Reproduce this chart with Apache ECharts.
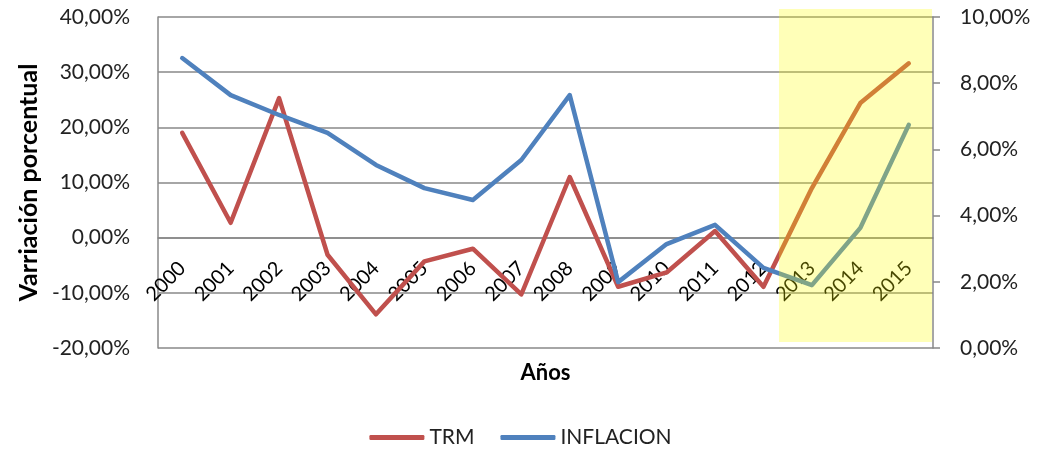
<!DOCTYPE html>
<html>
<head>
<meta charset="utf-8">
<script src="https://cdn.jsdelivr.net/npm/echarts@6/dist/echarts.min.js"></script>
<style>
  html, body { margin: 0; padding: 0; background: #fff; }
  #chart { width: 1041px; height: 453px; }
</style>
</head>
<body>
<div id="chart"></div>
<script>
const years = ['2000', '2001', '2002', '2003', '2004', '2005', '2006', '2007',
  '2008', '2009', '2010', '2011', '2012', '2013', '2014', '2015']
const trm = [19.0, 2.7, 25.3, -3.1, -13.9, -4.3, -2.0, -10.3,
  11.0, -8.9, -6.3, 1.2, -8.9, 9.0, 24.4, 31.6]
const inflacion = [8.76, 7.64, 7.04, 6.50, 5.53, 4.83, 4.47, 5.68,
  7.64, 1.99, 3.14, 3.72, 2.42, 1.90, 3.63, 6.74]
// highlighted band, in category index units (from 2012.3 to the right edge)
const bandX = [12.32, 15.48]

const font = 'Lato'
const pct = (v) => v.toFixed(2).replace('.', ',') + '%'

const myChart = echarts.init(document.getElementById('chart'))

const option = {
  animation: false,
  textStyle: { fontFamily: font },
  grid: [
    { left: 158, right: 108, top: 17, bottom: 105, outerBoundsMode: 'none', containLabel: false },
    // slightly taller grid only for the yellow highlight
    { left: 158, right: 108, top: 9, bottom: 111, outerBoundsMode: 'none', containLabel: false }
  ],
  legend: {
    data: ['TRM', 'INFLACION'],
    bottom: 0,
    left: 'center',
    icon: 'roundRect',
    itemWidth: 55,
    itemHeight: 5,
    itemGap: 26,
    textStyle: { fontFamily: font, fontSize: 21, color: '#222' }
  },
  xAxis: [
    {
      type: 'category',
      data: years,
      boundaryGap: true,
      // axis sits on the 0 % line of the left axis
      offset: -110,
      name: 'Años',
      nameLocation: 'middle',
      nameGap: 124,
      nameTextStyle: { fontFamily: font, fontSize: 22, fontWeight: 'bold', color: '#000' },
      axisLine: { onZero: false, lineStyle: { color: '#888', width: 1.5 } },
      axisTick: { show: false },
      axisLabel: { rotate: 45, margin: 27, fontSize: 20, color: '#000', interval: 0 }
    },
    {
      type: 'value',
      gridIndex: 1,
      min: -0.5,
      max: 15.5,
      show: false,
      axisLine: { onZero: false }
    }
  ],
  yAxis: [
    {
      type: 'value',
      min: -20,
      max: 40,
      interval: 10,
      name: 'Varriación porcentual',
      nameLocation: 'middle',
      nameGap: 116,
      nameTextStyle: { fontFamily: font, fontSize: 25, fontWeight: 'bold', color: '#000' },
      axisLine: { show: true, onZero: false, lineStyle: { color: '#888', width: 1.5 } },
      axisTick: { show: false },
      axisLabel: { formatter: pct, fontSize: 21, color: '#222', margin: 28 },
      splitLine: { lineStyle: { color: '#888', width: 1.5 } }
    },
    {
      type: 'value',
      min: 0,
      max: 10,
      interval: 2,
      position: 'right',
      axisLine: { show: true, onZero: false, lineStyle: { color: '#888', width: 1.5 } },
      axisTick: { show: true, length: 7, lineStyle: { color: '#888', width: 1.5 } },
      axisLabel: { formatter: pct, fontSize: 21, color: '#222', margin: 27 },
      splitLine: { show: false }
    },
    {
      type: 'value',
      gridIndex: 1,
      min: 0,
      max: 1,
      show: false,
      axisLine: { onZero: false },
      splitLine: { show: false }
    }
  ],
  series: [
    {
      name: 'TRM',
      type: 'line',
      data: trm,
      yAxisIndex: 0,
      showSymbol: false,
      color: '#C0504D',
      lineStyle: { width: 4.5, cap: 'round', join: 'round' }
    },
    {
      name: 'INFLACION',
      type: 'line',
      data: inflacion,
      yAxisIndex: 1,
      showSymbol: false,
      color: '#4F81BD',
      lineStyle: { width: 4.5, cap: 'round', join: 'round' }
    },
    {
      name: 'band',
      type: 'line',
      xAxisIndex: 1,
      yAxisIndex: 2,
      data: [],
      z: 10,
      silent: true,
      markArea: {
        silent: true,
        z: 10,
        itemStyle: { color: 'rgba(255,255,0,0.28)' },
        data: [[{ xAxis: bandX[0], yAxis: 1 }, { xAxis: bandX[1], yAxis: 0 }]]
      }
    }
  ]
}

myChart.setOption(option)
</script>
</body>
</html>
